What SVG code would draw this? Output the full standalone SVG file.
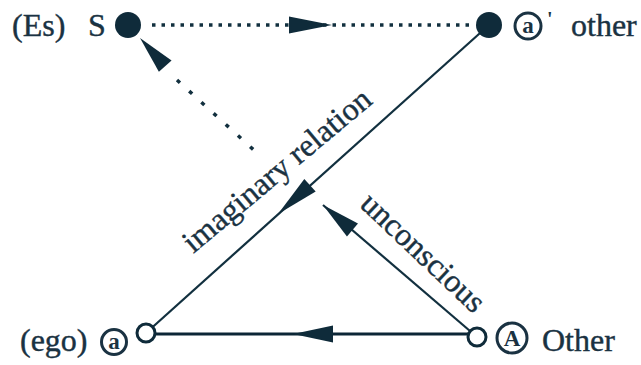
<svg xmlns="http://www.w3.org/2000/svg" xmlns:xlink="http://www.w3.org/1999/xlink" width="641" height="365" viewBox="0 0 641 365">
<style>
text{font-family:"Liberation Serif","Times New Roman",serif;fill:#1a3242;}
.lbl{font-size:32px;stroke:#1a3242;stroke-width:0.4;}
.sym{font-size:23px;font-weight:bold;text-anchor:middle;}
.ring{fill:none;stroke:#1a3242;stroke-width:3;}
.solid{stroke:#12303f;stroke-width:2.2;fill:none;}
.thick{stroke:#0c2636;stroke-width:3.2;fill:none;}
.dots{stroke:#12303f;stroke-width:3.5;fill:none;}
.node-f{fill:#0f2b3a;}
.node-o{fill:#fff;stroke:#0f2b3a;stroke-width:3;}
.ah{fill:#0f2b3a;}
</style>
<defs>
<path id="ah" d="M0,0 L-43,-8.5 L-43,8.5 Z"/>
</defs>
<rect width="641" height="365" fill="#fff"/>
<g id="connectors">
  <line class="dots" x1="152" y1="25" x2="472" y2="25" stroke-dasharray="3.5 6"/>
  <line class="dots" x1="177" y1="80" x2="256" y2="152" stroke-dasharray="4 12.5"/>
  <line class="solid" x1="146" y1="333" x2="489" y2="25"/>
  <line class="solid" x1="323" y1="205" x2="470" y2="331"/>
  <line class="thick" x1="155" y1="334" x2="468" y2="334"/>
  <use href="#ah" class="ah" transform="translate(332,25)"/>
  <use href="#ah" class="ah" transform="translate(140,38) rotate(-131.8) scale(0.88,1)"/>
  <use href="#ah" class="ah" transform="translate(278,214) rotate(138.1)"/>
  <use href="#ah" class="ah" transform="translate(323,205) rotate(-139.6) scale(0.9,1)"/>
  <use href="#ah" class="ah" transform="translate(293,334) rotate(180) scale(0.93,1)"/>
  <text class="lbl" text-anchor="middle" transform="translate(283.5,178.4) rotate(-40)">imaginary relation</text>
  <text class="lbl" text-anchor="middle" transform="translate(416,260) rotate(43.4)">unconscious</text>
</g>
<g id="node-S">
  <circle class="node-f" cx="128" cy="25" r="13"/>
  <text class="lbl" x="12" y="36">(Es)</text>
  <text class="lbl" x="88" y="36">S</text>
</g>
<g id="node-a-prime">
  <circle class="node-f" cx="489" cy="25" r="13"/>
  <circle class="ring" cx="528" cy="26" r="13"/>
  <text class="sym" x="528" y="33">a</text>
  <text x="547" y="26" style="font-size:20px;font-weight:bold">'</text>
  <text class="lbl" x="571" y="36">other</text>
</g>
<g id="node-ego">
  <circle class="node-o" cx="146" cy="333" r="9"/>
  <circle class="ring" cx="114" cy="342" r="12.5"/>
  <text class="sym" x="114" y="349">a</text>
  <text class="lbl" x="20" y="351">(ego)</text>
</g>
<g id="node-Other">
  <circle class="node-o" cx="477" cy="337" r="9"/>
  <circle class="ring" cx="512" cy="338" r="15"/>
  <text class="sym" x="512" y="346">A</text>
  <text class="lbl" x="542" y="351">Other</text>
</g>
</svg>
